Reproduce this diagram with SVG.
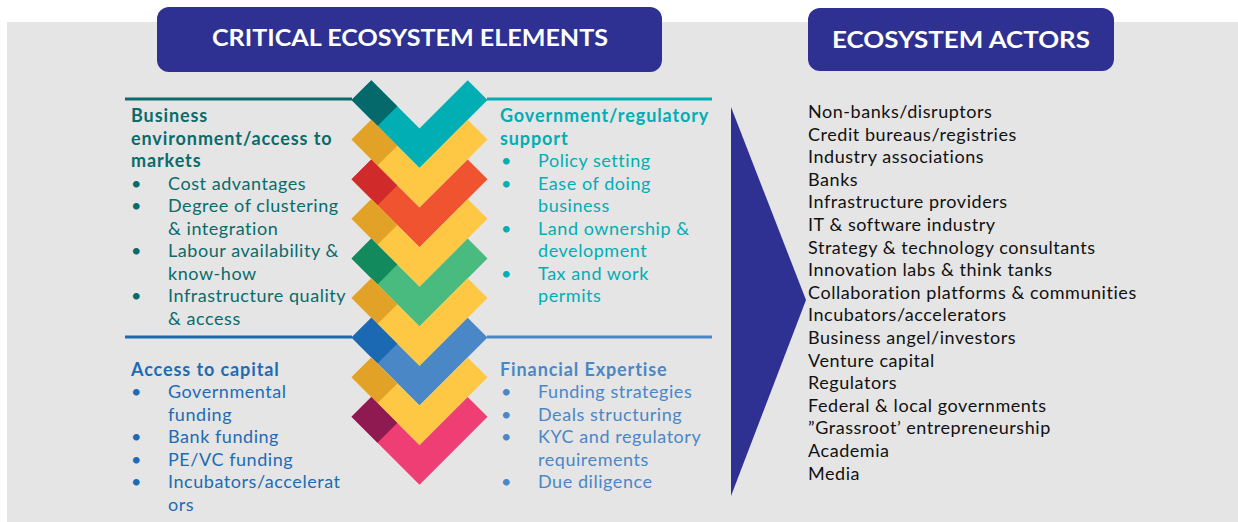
<svg xmlns="http://www.w3.org/2000/svg" xmlns:xlink="http://www.w3.org/1999/xlink" width="1238" height="522" viewBox="0 0 1238 522">
  <style>
    text { font-family: Lato, "Noto Sans", "Liberation Sans", sans-serif; font-size: 18px; letter-spacing: 0.55px; }
    .hdr { font-weight: 700; fill: #ffffff; font-size: 23px; letter-spacing: 0; }
    .b { font-weight: 700; letter-spacing: 0.9px; }
    .tl { fill: #0A6B6B; }
    .tr { fill: #00AEB4; }
    .bl { fill: #1E6BB5; }
    .br { fill: #4A87C6; }
    .act { fill: #111111; }
  </style>
  <defs>
    <polygon id="chev" points="-68,-68 -48.2,-87.8 0,-39.6 48.2,-87.8 68,-68 0,0"/>
    <polygon id="chevDark" points="-68,-68 -48.2,-87.8 -22.2,-61.8 -42,-42"/>
  </defs>

  <rect id="background" x="7" y="22" width="1231" height="500" fill="#E5E5E5"/>

  <g id="header-elements">
    <rect x="157" y="7" width="505" height="65" rx="12" fill="#2E3192"/>
    <text class="hdr" x="410" y="46" text-anchor="middle" textLength="396" lengthAdjust="spacingAndGlyphs">CRITICAL ECOSYSTEM ELEMENTS</text>
  </g>
  <g id="header-actors">
    <rect x="808" y="8" width="306" height="63" rx="12" fill="#2E3192"/>
    <text class="hdr" x="961" y="48" text-anchor="middle" textLength="258" lengthAdjust="spacingAndGlyphs">ECOSYSTEM ACTORS</text>
  </g>

  <g id="connectors">
    <line x1="125" y1="99" x2="352" y2="99" stroke="#0A6B6B" stroke-width="3"/>
    <line x1="487" y1="99" x2="712" y2="99" stroke="#00AEB4" stroke-width="3"/>
    <line x1="125" y1="337" x2="352" y2="337" stroke="#1B69B2" stroke-width="3"/>
    <line x1="487" y1="337" x2="712" y2="337" stroke="#4A87C6" stroke-width="3"/>
  </g>

  <g id="chevrons">
    <g id="chev-teal" transform="translate(419.5,168)"><use xlink:href="#chev" fill="#00AEB4"/><use xlink:href="#chevDark" fill="#05696B"/></g>
    <g id="chev-yellow-1" transform="translate(419.5,207.6)"><use xlink:href="#chev" fill="#FEC845"/><use xlink:href="#chevDark" fill="#E2A227"/></g>
    <g id="chev-red" transform="translate(419.5,247.2)"><use xlink:href="#chev" fill="#EF5330"/><use xlink:href="#chevDark" fill="#D02B2A"/></g>
    <g id="chev-yellow-2" transform="translate(419.5,286.8)"><use xlink:href="#chev" fill="#FEC845"/><use xlink:href="#chevDark" fill="#E2A227"/></g>
    <g id="chev-green" transform="translate(419.5,326.4)"><use xlink:href="#chev" fill="#4ABB7E"/><use xlink:href="#chevDark" fill="#138A5E"/></g>
    <g id="chev-yellow-3" transform="translate(419.5,366)"><use xlink:href="#chev" fill="#FEC845"/><use xlink:href="#chevDark" fill="#E2A227"/></g>
    <g id="chev-blue" transform="translate(419.5,405.6)"><use xlink:href="#chev" fill="#4A87C6"/><use xlink:href="#chevDark" fill="#1B69B2"/></g>
    <g id="chev-yellow-4" transform="translate(419.5,445.2)"><use xlink:href="#chev" fill="#FEC845"/><use xlink:href="#chevDark" fill="#E2A227"/></g>
    <g id="chev-pink" transform="translate(419.5,484.8)"><use xlink:href="#chev" fill="#EE3E73"/><use xlink:href="#chevDark" fill="#8E1A51"/></g>
  </g>

  <g id="section-business" class="tl">
    <text class="b" x="131" y="122">Business</text>
    <text class="b" x="131" y="144.5">environment/access to</text>
    <text class="b" x="131" y="167">markets</text>
    <text x="131" y="189.5">•</text><text x="168" y="189.5">Cost advantages</text>
    <text x="131" y="212">•</text><text x="168" y="212">Degree of clustering</text>
    <text x="168" y="234.5">&amp; integration</text>
    <text x="131" y="257">•</text><text x="168" y="257">Labour availability &amp;</text>
    <text x="168" y="279.5">know-how</text>
    <text x="131" y="302">•</text><text x="168" y="302">Infrastructure quality</text>
    <text x="168" y="324.5">&amp; access</text>
  </g>

  <g id="section-government" class="tr">
    <text class="b" x="500" y="122">Government/regulatory</text>
    <text class="b" x="500" y="144.5">support</text>
    <text x="501" y="167">•</text><text x="538" y="167">Policy setting</text>
    <text x="501" y="189.5">•</text><text x="538" y="189.5">Ease of doing</text>
    <text x="538" y="212">business</text>
    <text x="501" y="234.5">•</text><text x="538" y="234.5">Land ownership &amp;</text>
    <text x="538" y="257">development</text>
    <text x="501" y="279.5">•</text><text x="538" y="279.5">Tax and work</text>
    <text x="538" y="302">permits</text>
  </g>

  <g id="section-capital" class="bl">
    <text class="b" x="131" y="376">Access to capital</text>
    <text x="131" y="398">•</text><text x="168" y="398">Governmental</text>
    <text x="168" y="420.5">funding</text>
    <text x="131" y="443">•</text><text x="168" y="443">Bank funding</text>
    <text x="131" y="465.5">•</text><text x="168" y="465.5">PE/VC funding</text>
    <text x="131" y="488">•</text><text x="168" y="488">Incubators/accelerat</text>
    <text x="168" y="510.5">ors</text>
  </g>

  <g id="section-expertise" class="br">
    <text class="b" x="500" y="376">Financial Expertise</text>
    <text x="501" y="398">•</text><text x="538" y="398">Funding strategies</text>
    <text x="501" y="420.5">•</text><text x="538" y="420.5">Deals structuring</text>
    <text x="501" y="443">•</text><text x="538" y="443">KYC and regulatory</text>
    <text x="538" y="465.5">requirements</text>
    <text x="501" y="488">•</text><text x="538" y="488">Due diligence</text>
  </g>

  <g id="arrow">
    <polygon points="731,107 806,300 731,496" fill="#2E3192"/>
  </g>

  <g id="actors" class="act">
    <text x="808" y="118">Non-banks/disruptors</text>
    <text x="808" y="140.6">Credit bureaus/registries</text>
    <text x="808" y="163.2">Industry associations</text>
    <text x="808" y="185.8">Banks</text>
    <text x="808" y="208.4">Infrastructure providers</text>
    <text x="808" y="231">IT &amp; software industry</text>
    <text x="808" y="253.6">Strategy &amp; technology consultants</text>
    <text x="808" y="276.2">Innovation labs &amp; think tanks</text>
    <text x="808" y="298.8">Collaboration platforms &amp; communities</text>
    <text x="808" y="321.4">Incubators/accelerators</text>
    <text x="808" y="344">Business angel/investors</text>
    <text x="808" y="366.6">Venture capital</text>
    <text x="808" y="389.2">Regulators</text>
    <text x="808" y="411.8">Federal &amp; local governments</text>
    <text x="808" y="434.4">”Grassroot’ entrepreneurship</text>
    <text x="808" y="457">Academia</text>
    <text x="808" y="479.6">Media</text>
  </g>
</svg>
